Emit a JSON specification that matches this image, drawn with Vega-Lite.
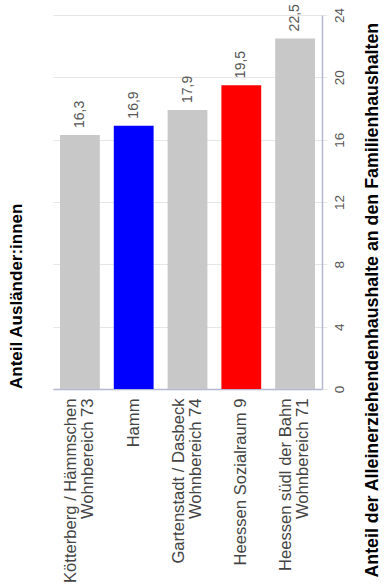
{
  "$schema": "https://vega.github.io/schema/vega-lite/v6.json",
  "width": 269,
  "height": 374,
  "autosize": {"type": "none"},
  "padding": {"left": 53, "top": 15, "right": 65, "bottom": 196},
  "background": "white",
  "config": {
    "locale": {"number": {"decimal": ",", "thousands": ".", "grouping": [3], "currency": ["", " €"]}},
    "view": {"stroke": null},
    "font": "Liberation Sans"
  },
  "title": {
    "text": "Anteil Ausländer:innen",
    "orient": "left",
    "anchor": "start",
    "frame": "group",
    "fontSize": 17,
    "fontWeight": "bold",
    "font": "Liberation Sans",
    "color": "#000000",
    "offset": 27
  },
  "data": {
    "values": [
      {"gebiet": "Kötterberg / Hämmschen|Wohnbereich 73", "wert": 16.3, "farbe": "grau"},
      {"gebiet": "Hamm", "wert": 16.9, "farbe": "blau"},
      {"gebiet": "Gartenstadt / Dasbeck|Wohnbereich 74", "wert": 17.9, "farbe": "grau"},
      {"gebiet": "Heessen Sozialraum 9", "wert": 19.5, "farbe": "rot"},
      {"gebiet": "Heessen südl der Bahn|Wohnbereich 71", "wert": 22.5, "farbe": "grau"}
    ]
  },
  "encoding": {
    "x": {
      "field": "gebiet",
      "type": "nominal",
      "sort": null,
      "scale": {"paddingInner": 0.26, "paddingOuter": 0.13},
      "axis": {
        "title": null,
        "labelAngle": 270,
        "labelAlign": "right",
        "labelBaseline": "middle",
        "labelExpr": "split(datum.value, '|')",
        "labelFontSize": 16.6,
        "labelLineHeight": 17,
        "labelLimit": 400,
        "labelColor": "#444444",
        "labelPadding": 9,
        "labelFont": "Liberation Sans",
        "labelOffset": {"condition": {"test": "indexof(datum.value, '|') >= 0", "value": -9}, "value": 0},
        "ticks": false,
        "domainColor": "#b4b8d0",
        "domainWidth": 1.5
      }
    },
    "y": {
      "field": "wert",
      "type": "quantitative",
      "scale": {"domain": [0, 24], "nice": false},
      "axis": {
        "orient": "right",
        "values": [0, 4, 8, 12, 16, 20, 24],
        "title": "Anteil der Alleinerziehendenhaushalte an den Familienhaushalten",
        "titleAngle": 270,
        "titleX": 50,
        "titleY": 562,
        "titleAlign": "left",
        "titleBaseline": "middle",
        "titleFontSize": 17.8,
        "titleFontWeight": "bold",
        "titleFont": "Liberation Sans",
        "titleColor": "#000000",
        "titleLimit": 700,
        "labelAngle": 270,
        "labelAlign": "center",
        "labelBaseline": "top",
        "labelFontSize": 13.5,
        "labelColor": "#555555",
        "labelPadding": 5,
        "tickColor": "#e8e8e8",
        "tickSize": 5,
        "domainColor": "#b4b8d0",
        "domainWidth": 1.5,
        "gridColor": "#e6e6e6"
      }
    }
  },
  "layer": [
    {
      "mark": {"type": "bar"},
      "encoding": {
        "color": {
          "field": "farbe",
          "type": "nominal",
          "scale": {"domain": ["grau", "blau", "rot"], "range": ["#c8c8c8", "#0000ff", "#ff0000"]},
          "legend": null
        }
      }
    },
    {
      "mark": {"type": "text", "angle": 270, "align": "left", "baseline": "middle", "dx": 7, "fontSize": 14, "color": "#555555", "font": "Liberation Sans"},
      "encoding": {
        "text": {"field": "wert", "type": "quantitative", "format": ".1f"}
      }
    }
  ]
}
